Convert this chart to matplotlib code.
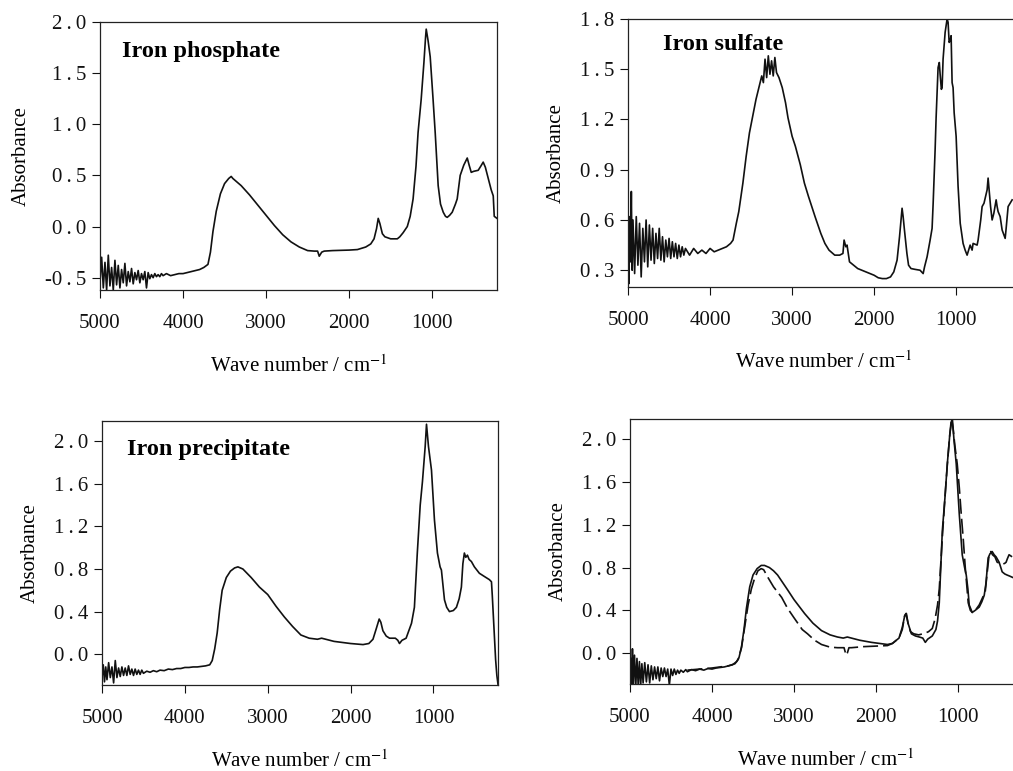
import matplotlib
matplotlib.use("Agg")
import matplotlib.pyplot as plt

# --- data (wave number in cm-1, absorbance) ---

phosphate_wn = [5000, 4980, 4960, 4940, 4920, 4900, 4880, 4860, 4840, 4820, 4800, 4780,
                4760, 4740, 4720, 4700, 4680, 4660, 4640, 4620, 4600, 4580, 4560, 4540,
                4520, 4500, 4480, 4460, 4440, 4420, 4400, 4380, 4360, 4340, 4320, 4300,
                4280, 4260, 4240, 4200, 4150, 4100, 4050, 4000, 3950, 3900, 3850, 3800,
                3750, 3700, 3670, 3640, 3600, 3550, 3500, 3450, 3420, 3400, 3300, 3200,
                3100, 3000, 2900, 2800, 2700, 2600, 2500, 2420, 2380, 2360, 2330, 2300,
                2200, 2000, 1900, 1800, 1740, 1700, 1670, 1650, 1630, 1600, 1570, 1500,
                1420, 1390, 1350, 1300, 1265, 1230, 1195, 1170, 1133, 1100, 1080, 1072,
                1050, 1024, 990, 964, 928, 900, 867, 840, 819, 790, 759, 720, 699, 663,
                620, 578, 555, 530, 500, 446, 415, 386, 360, 325, 290, 265, 253, 220]
phosphate_abs = [-0.55, -0.30, -0.60, -0.35, -0.62, -0.28, -0.58, -0.40, -0.62, -0.33, -0.57, -0.38,
                 -0.60, -0.42, -0.55, -0.36, -0.58, -0.44, -0.54, -0.41, -0.56, -0.45, -0.52, -0.43,
                 -0.55, -0.46, -0.52, -0.44, -0.60, -0.45, -0.51, -0.47, -0.50, -0.46, -0.49, -0.47,
                 -0.49, -0.46, -0.48, -0.46, -0.48, -0.47, -0.46, -0.46, -0.45, -0.44, -0.43, -0.42,
                 -0.40, -0.37, -0.25, -0.05, 0.15, 0.32, 0.42, 0.47, 0.49, 0.47, 0.40, 0.31,
                 0.21, 0.11, 0.01, -0.08, -0.15, -0.20, -0.235, -0.24, -0.24, -0.29, -0.25, -0.24,
                 -0.235, -0.23, -0.225, -0.20, -0.17, -0.12, -0.02, 0.08, 0.03, -0.07, -0.10, -0.12,
                 -0.12, -0.10, -0.06, 0.00, 0.10, 0.27, 0.59, 0.92, 1.24, 1.60, 1.85, 1.93,
                 1.82, 1.66, 1.25, 0.92, 0.40, 0.22, 0.14, 0.10, 0.09, 0.11, 0.14, 0.22, 0.27, 0.50,
                 0.60, 0.67, 0.60, 0.53, 0.54, 0.55, 0.59, 0.63, 0.58, 0.47, 0.36, 0.30, 0.10, 0.08]

sulfate_wn = [5000, 4990, 4980, 4970, 4960, 4950, 4940, 4920, 4900, 4880, 4860, 4840,
              4820, 4800, 4780, 4760, 4740, 4720, 4700, 4680, 4660, 4640, 4620, 4600,
              4580, 4560, 4540, 4520, 4500, 4480, 4460, 4440, 4420, 4400, 4380, 4360,
              4340, 4320, 4300, 4250, 4200, 4150, 4100, 4050, 4000, 3950, 3900, 3850,
              3800, 3750, 3720, 3680, 3650, 3600, 3560, 3520, 3480, 3440, 3400, 3370,
              3350, 3330, 3310, 3290, 3270, 3250, 3230, 3210, 3190, 3160, 3120, 3080,
              3050, 3000, 2960, 2900, 2850, 2800, 2720, 2650, 2600, 2550, 2480, 2420,
              2380, 2366, 2345, 2330, 2300, 2250, 2200, 2100, 2000, 1950, 1900, 1850,
              1800, 1760, 1720, 1690, 1659, 1646, 1630, 1600, 1580, 1550, 1500, 1440,
              1402, 1385, 1354, 1317, 1293, 1280, 1256, 1244, 1220, 1205, 1195, 1180,
              1171, 1159, 1134, 1110, 1098, 1085, 1073, 1061, 1049, 1037, 1024, 1000,
              976, 950, 927, 915, 890, 866, 829, 805, 793, 744, 732, 700, 683, 660,
              646, 622, 610, 580, 561, 540, 512, 500, 488, 463, 439, 402, 390, 366,
              341, 317]
sulfate_abs = [0.55, 0.22, 0.62, 0.35, 0.77, 0.30, 0.60, 0.28, 0.62, 0.33, 0.58, 0.26,
               0.55, 0.35, 0.60, 0.32, 0.57, 0.36, 0.55, 0.34, 0.52, 0.37, 0.55, 0.36,
               0.50, 0.35, 0.48, 0.38, 0.49, 0.37, 0.47, 0.38, 0.46, 0.37, 0.45, 0.38,
               0.44, 0.39, 0.43, 0.39, 0.43, 0.40, 0.42, 0.40, 0.43, 0.41, 0.42, 0.43,
               0.44, 0.46, 0.48, 0.58, 0.65, 0.82, 0.98, 1.12, 1.22, 1.32, 1.40, 1.46,
               1.42, 1.56, 1.45, 1.58, 1.47, 1.55, 1.46, 1.57, 1.48, 1.45, 1.39, 1.30,
               1.21, 1.10, 1.04, 0.93, 0.82, 0.74, 0.62, 0.52, 0.46, 0.42, 0.39, 0.39,
               0.40, 0.48, 0.44, 0.45, 0.35, 0.33, 0.31, 0.29, 0.27, 0.255, 0.25, 0.25,
               0.26, 0.29, 0.36, 0.50, 0.67, 0.62, 0.54, 0.40, 0.33, 0.31, 0.305, 0.30,
               0.28, 0.32, 0.38, 0.48, 0.55, 0.70, 1.02, 1.21, 1.51, 1.54, 1.47, 1.38,
               1.39, 1.56, 1.72, 1.80, 1.78, 1.66, 1.67, 1.70, 1.42, 1.39, 1.24, 1.10,
               0.80, 0.58, 0.50, 0.46, 0.42, 0.39, 0.45, 0.42, 0.46, 0.45, 0.48, 0.60, 0.68, 0.70,
               0.73, 0.78, 0.85, 0.68, 0.60, 0.64, 0.72, 0.68, 0.65, 0.62, 0.54, 0.49, 0.55, 0.68,
               0.70, 0.72]

precip_wn = [5000, 4985, 4970, 4955, 4940, 4920, 4900, 4880, 4860, 4840, 4820, 4800,
             4780, 4760, 4740, 4720, 4700, 4680, 4660, 4640, 4620, 4600, 4580, 4560,
             4540, 4520, 4500, 4460, 4420, 4380, 4340, 4300, 4250, 4200, 4150, 4100,
             4050, 4000, 3950, 3900, 3850, 3800, 3750, 3700, 3670, 3640, 3610, 3580,
             3550, 3500, 3450, 3400, 3360, 3300, 3200, 3100, 3000, 2900, 2800, 2700,
             2600, 2500, 2400, 2350, 2300, 2200, 2000, 1850, 1780, 1730, 1690, 1655,
             1635, 1610, 1570, 1530, 1460, 1430, 1410, 1380, 1330, 1265, 1230, 1195,
             1160, 1133, 1100, 1084, 1060, 1024, 988, 952, 920, 904, 867, 840, 807,
             760, 723, 690, 663, 645, 627, 610, 590, 570, 542, 506, 446, 386, 325,
             300, 290, 270, 250, 235, 220]
precip_abs = [-0.22, -0.10, -0.26, -0.12, -0.24, -0.08, -0.22, -0.12, -0.27, -0.06, -0.22, -0.13,
              -0.21, -0.12, -0.20, -0.13, -0.20, -0.11, -0.19, -0.14, -0.20, -0.14, -0.19, -0.15,
              -0.19, -0.15, -0.18, -0.16, -0.17, -0.155, -0.165, -0.15, -0.155, -0.14, -0.145, -0.135,
              -0.135, -0.125, -0.125, -0.12, -0.12, -0.115, -0.11, -0.10, -0.06, 0.05, 0.20, 0.42,
              0.60, 0.72, 0.78, 0.81, 0.82, 0.80, 0.72, 0.63, 0.56, 0.45, 0.35, 0.26,
              0.18, 0.15, 0.14, 0.15, 0.14, 0.12, 0.10, 0.09, 0.10, 0.14, 0.24, 0.33,
              0.30, 0.22, 0.17, 0.15, 0.15, 0.13, 0.10, 0.13, 0.15, 0.29, 0.44, 0.95,
              1.40, 1.62, 1.95, 2.16, 1.95, 1.73, 1.26, 0.95, 0.82, 0.79, 0.51, 0.44, 0.40,
              0.41, 0.44, 0.52, 0.63, 0.85, 0.95, 0.91, 0.93, 0.89, 0.87, 0.82, 0.76, 0.73, 0.70,
              0.68, 0.55, 0.25, -0.05, -0.20, -0.29]

# overlay panel: solid trace
overlay_wn = [5000, 4990, 4980, 4970, 4960, 4945, 4930, 4915, 4900, 4885, 4870, 4855,
              4840, 4820, 4800, 4780, 4760, 4740, 4720, 4700, 4680, 4660, 4640, 4620,
              4600, 4580, 4560, 4540, 4520, 4500, 4480, 4460, 4440, 4420, 4400, 4380,
              4350, 4320, 4300, 4250, 4200, 4150, 4100, 4050, 4000, 3950, 3900, 3850,
              3800, 3750, 3700, 3670, 3640, 3610, 3580, 3540, 3500, 3450, 3400, 3360,
              3300, 3250, 3200, 3077, 3000, 2871, 2770, 2665, 2560, 2470, 2400, 2350,
              2300, 2200, 2056, 1861, 1800, 1720, 1680, 1650, 1630, 1610, 1569, 1520,
              1472, 1430, 1399, 1370, 1314, 1270, 1250, 1229, 1192, 1160, 1131, 1100,
              1071, 1050, 1022, 985, 949, 920, 900, 880, 864, 827, 790, 742, 710, 681,
              660, 633, 610, 584, 560, 536, 499, 462, 430, 402, 370, 341, 310]
overlay_abs = [-0.28, -0.05, -0.32, 0.04, -0.30, -0.02, -0.32, -0.05, -0.30, -0.08, -0.31, -0.10,
               -0.28, -0.09, -0.27, -0.11, -0.28, -0.12, -0.25, -0.13, -0.24, -0.13, -0.26, -0.14,
               -0.22, -0.14, -0.22, -0.15, -0.30, -0.15, -0.21, -0.15, -0.20, -0.16, -0.19, -0.16,
               -0.18, -0.155, -0.175, -0.155, -0.165, -0.15, -0.16, -0.145, -0.15, -0.14, -0.135, -0.13,
               -0.12, -0.11, -0.08, -0.04, 0.06, 0.22, 0.42, 0.62, 0.73, 0.79, 0.82, 0.82,
               0.80, 0.77, 0.73, 0.59, 0.50, 0.37, 0.28, 0.21, 0.17, 0.15, 0.14, 0.15,
               0.14, 0.12, 0.10, 0.08, 0.09, 0.14, 0.24, 0.35, 0.37, 0.28, 0.18, 0.16,
               0.15, 0.14, 0.10, 0.13, 0.16, 0.22, 0.30, 0.47, 1.14, 1.45, 1.77, 2.05,
               2.21, 2.00, 1.77, 1.30, 0.92, 0.80, 0.73, 0.60, 0.45, 0.38, 0.40, 0.43, 0.48, 0.54,
               0.65, 0.89, 0.93, 0.95, 0.92, 0.90, 0.85, 0.76, 0.74, 0.73, 0.72, 0.71, 0.70]

# overlay panel: dashed trace
dashed_wn = [4300, 4000, 3800, 3720, 3680, 3640, 3600, 3560, 3520, 3480, 3440, 3400,
             3370, 3320, 3250, 3150, 3080, 3000, 2900, 2835, 2750, 2665, 2560, 2470,
             2390, 2365, 2350, 2330, 2300, 2150, 2000, 1860, 1800, 1720, 1680, 1650,
             1635, 1610, 1580, 1540, 1480, 1430, 1390, 1360, 1314, 1280, 1250, 1229,
             1190, 1160, 1130, 1100, 1080, 1060, 1040, 1010, 985, 961, 935, 912, 890,
             876, 850, 827, 780, 742, 700, 669, 645, 621, 600, 580, 550, 523, 490,
             460, 430, 414, 400, 378, 340, 300]
dashed_abs = [-0.16, -0.14, -0.12, -0.10, -0.06, 0.05, 0.25, 0.45, 0.60, 0.70, 0.77, 0.79,
              0.78, 0.71, 0.62, 0.52, 0.42, 0.33, 0.22, 0.18, 0.12, 0.08, 0.055, 0.05,
              0.05, -0.02, 0.00, 0.05, 0.05, 0.06, 0.065, 0.07, 0.09, 0.14, 0.22, 0.35,
              0.37, 0.28, 0.20, 0.18, 0.17, 0.18, 0.19, 0.20, 0.23, 0.32, 0.45, 0.60,
              1.10, 1.45, 1.77, 2.05, 2.20, 2.10, 1.95, 1.77, 1.55, 1.30, 1.05, 0.80, 0.60,
              0.47, 0.40, 0.38, 0.41, 0.45, 0.52, 0.57, 0.75, 0.92, 0.95, 0.92, 0.90, 0.85, 0.84,
              0.83, 0.84, 0.85, 0.88, 0.92, 0.90, 0.89]

x_ticks = [5000, 4000, 3000, 2000, 1000]
yticks_phosphate = [-0.5, 0.0, 0.5, 1.0, 1.5, 2.0]
yticks_sulfate = [0.3, 0.6, 0.9, 1.2, 1.5, 1.8]
yticks_precip = [0.0, 0.4, 0.8, 1.2, 1.6, 2.0]

plt.rcParams['font.family'] = ['Liberation Serif', 'DejaVu Serif']
plt.rcParams['mathtext.fontset'] = 'stix'
plt.rcParams['axes.unicode_minus'] = False

LINE = '#111111'


def style_axis(ax, xlim, ylim, yticks):
    """Eixo de espectro: números de onda decrescentes, ticks para fora."""
    ax.set_xlim(*xlim)
    ax.set_ylim(*ylim)
    ax.set_xticks(x_ticks)
    ax.set_yticks(yticks)
    # the original spaces the decimal point out like a digit
    ax.set_yticklabels([f'{v:.1f}'.replace('.', '\u2009.\u2009') for v in yticks])
    ax.tick_params(direction='out', length=6, width=0.8, labelsize=15, colors='#111111')
    ax.tick_params(axis='x', pad=11)
    ax.tick_params(axis='y', pad=4)
    for sp in ax.spines.values():
        sp.set_linewidth(0.9)
        sp.set_color('#222222')
    ax.set_xlabel('Wave number / cm$^{-1}$', fontsize=15, labelpad=16)
    ax.set_ylabel('Absorbance', fontsize=15, labelpad=10)


fig = plt.figure(figsize=(10.13, 7.71), dpi=100)

# right-hand panels run past the figure edge, as in the cropped original
ax1 = fig.add_axes([0.0987, 0.6239, 0.3919, 0.3476])
ax2 = fig.add_axes([0.6200, 0.6278, 0.3870, 0.3476])
ax3 = fig.add_axes([0.1007, 0.1115, 0.3910, 0.3424])
ax4 = fig.add_axes([0.6219, 0.1128, 0.3870, 0.3437])

ax1.plot(phosphate_wn, phosphate_abs, color=LINE, lw=1.2)
style_axis(ax1, (5000, 220), (-0.62, 2.0), yticks_phosphate)
ax1.text(0.055, 0.888, 'Iron phosphate', transform=ax1.transAxes,
         fontsize=17.5, fontweight='bold', va='center', ha='left')

ax2.plot(sulfate_wn, sulfate_abs, color=LINE, lw=1.2)
style_axis(ax2, (5000, 220), (0.2, 1.8), yticks_sulfate)
ax2.text(0.089, 0.903, 'Iron sulfate', transform=ax2.transAxes,
         fontsize=17.5, fontweight='bold', va='center', ha='left')

ax3.plot(precip_wn, precip_abs, color=LINE, lw=1.2)
style_axis(ax3, (5000, 220), (-0.29, 2.19), yticks_precip)
ax3.text(0.063, 0.894, 'Iron precipitate', transform=ax3.transAxes,
         fontsize=17.5, fontweight='bold', va='center', ha='left')

ax4.plot(overlay_wn, overlay_abs, color=LINE, lw=1.2)
ax4.plot(dashed_wn, dashed_abs, color=LINE, lw=1.2, dashes=(9, 3))
style_axis(ax4, (5000, 220), (-0.29, 2.19), yticks_precip)

fig.savefig('out.png', dpi=100)
